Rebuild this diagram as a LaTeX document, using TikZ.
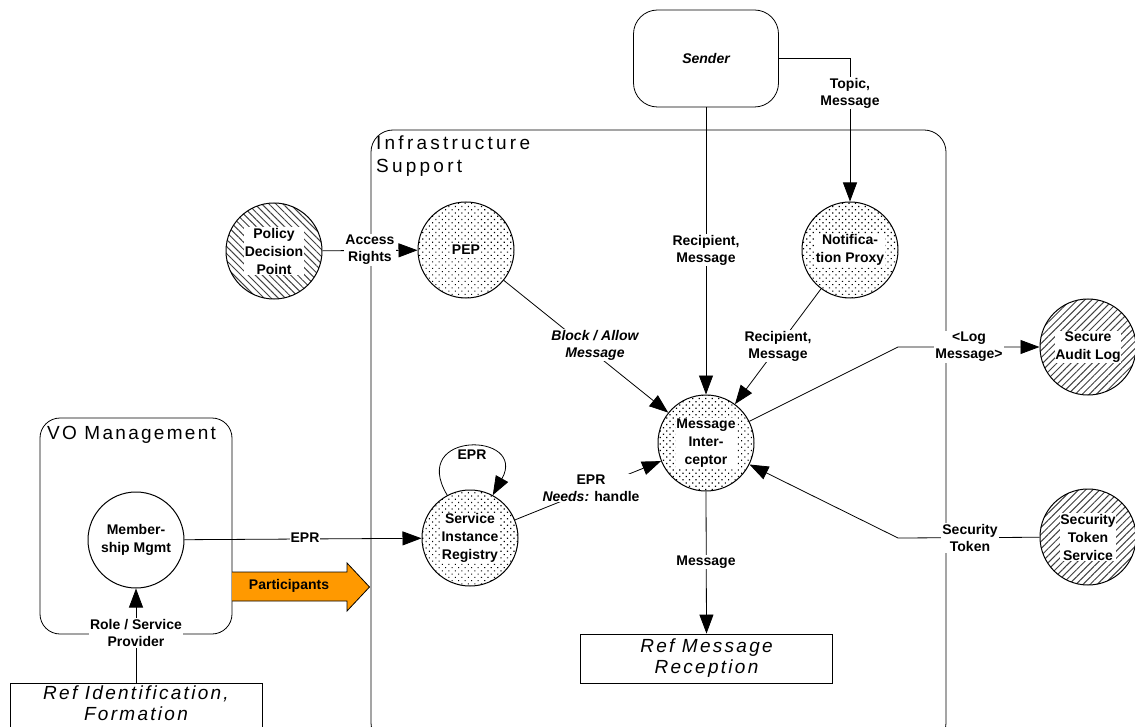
\documentclass[tikz,border=0pt]{standalone}
\usepackage{fontspec}
\setmainfont{Liberation Sans}
\newfontfamily\spacedfont[LetterSpace=12]{Liberation Sans}
\newfontfamily\widefont[LetterSpace=17]{Liberation Sans}
\usetikzlibrary{arrows.meta,patterns.meta}

\definecolor{partorange}{HTML}{FF9900}
\definecolor{hatchgray}{gray}{0.25}

\tikzset{
  lab/.style={font=\bfseries\fontsize{14}{17}\selectfont, align=center, fill=white, inner sep=1pt},
  intext/.style={font=\bfseries\fontsize{14}{18}\selectfont, align=center, fill=white, inner sep=0.8pt},
  conn/.style={line width=0.8pt, -{Triangle[length=19pt,width=14pt]}},
  bubble/.style={circle, draw, line width=1pt, minimum size=96pt, inner sep=0pt},
  dotted bubble/.style={bubble, pattern={Dots[distance=4.6pt,radius=0.85pt,angle=45]}},
  hatch ne/.style={bubble, pattern={Lines[angle=45,distance=5pt,line width=1pt]}, pattern color=hatchgray},
  hatch nw/.style={bubble, pattern={Lines[angle=-45,distance=5pt,line width=1pt]}, pattern color=hatchgray},
  group/.style={draw, line width=0.8pt, rounded corners=22pt},
  refbox/.style={draw, line width=0.8pt, font=\spacedfont\itshape\fontsize{19}{21}\selectfont, align=center},
  grouptitle/.style={font=\spacedfont\fontsize{19}{23}\selectfont, align=left, inner sep=0pt, anchor=north west}
}

\begin{document}
\begin{tikzpicture}[x=1pt,y=-1pt]
\useasboundingbox (0,0) rectangle (1135,727);

% group frames
\draw[group] (371,130) rectangle (946,745);
\draw[group, rounded corners=20pt] (40,418) rectangle (232,634);
\node[grouptitle, font=\widefont\fontsize{19}{23}\selectfont] (infratitle) at (376,136) {Infrastructure\\Support};
\node[grouptitle] (votitle) at (47,426) {VO Management};

% sender and reference boxes
\node[draw, line width=0.8pt, rounded corners=24pt, minimum width=145pt, minimum height=97pt,
      font=\bfseries\itshape\fontsize{14}{17}\selectfont] (sender) at (706,58.5) {Sender};
\node[refbox, minimum width=252pt, minimum height=49pt] (msgrec) at (706.5,658.5) {Ref Message\\Reception};
\draw[line width=0.8pt] (10,683) rectangle (262,760);
\node[font=\spacedfont\itshape\fontsize{19}{21}\selectfont, align=center, inner sep=0pt, anchor=north] (refid) at (136,686) {Ref Identification,\\Formation};
\coordinate (refidtop) at (136,683);

% bubbles
\node[hatch nw] (pdp) at (274,251) {};
\node[dotted bubble] (pep) at (466,250) {};
\node[dotted bubble] (np) at (850,250) {};
\node[dotted bubble] (mi) at (706,443) {};
\node[dotted bubble] (sir) at (470,538) {};
\node[hatch ne] (sal) at (1088,347) {};
\node[hatch ne] (sts) at (1088,537) {};
\node[bubble, fill=white] (mm) at (136,540) {};

\node[intext] (pdp-t) at (pdp) {Policy\\Decision\\Point};
\node[intext] (pep-t) at (pep) {PEP};
\node[intext] (np-t) at (np) {Notifica-\\tion Proxy};
\node[intext] (mi-t) at (mi) {Message\\Inter-\\ceptor};
\node[intext] (sir-t) at (sir) {Service\\Instance\\Registry};
\node[intext] (sal-t) at (sal) {Secure\\Audit Log};
\node[intext] (sts-t) at (sts) {Security\\Token\\Service};
\node[intext, fill=none] (mm-t) at (mm) {Member-\\ship Mgmt};

% bend points
\coordinate (topicbend) at (850,58.5);
\coordinate (logbend) at (898,347);
\coordinate (tokenbend) at (898,538);

% connectors
\draw[conn] (sender.east) -- (topicbend) -- (np);
\draw[conn] (sender.south) -- (mi.north);
\draw[conn] (pdp) -- (pep);
\draw[conn] (pep) -- (mi);
\draw[conn] (np) -- (mi);
\draw[conn] (mi) -- (logbend) -- (sal);
\draw[conn] (sts) -- (tokenbend) -- (mi);
\draw[conn] (sir) -- (mi);
\draw[conn] (sir.118) .. controls (408,430) and (528,432) .. (sir.62);
\draw[conn] (mm) -- (sir);
\draw[conn] (mi.south) -- (msgrec.north);
\draw[conn] (refidtop) -- (mm.south);

% participants flow
\draw[line width=0.8pt, fill=partorange] (232,572) -- (347,572) -- (347,563) -- (369.5,587)
  -- (347,611) -- (347,601) -- (232,601);
\node[font=\bfseries\fontsize{14}{17}\selectfont, inner sep=0pt] (partlab) at (289,586) {Participants};

% connector labels
\node[lab] (topiclab) at (850,93) {Topic,\\Message};
\node[lab] (reclab1) at (706,250) {Recipient,\\Message};
\node[lab] (acclab) at (370,250) {Access\\Rights};
\node[lab, font=\bfseries\itshape\fontsize{14}{17}\selectfont] (balab) at (595,345) {Block / Allow\\Message};
\node[lab] (reclab2) at (778,346) {Recipient,\\Message};
\node[lab] (loglab) at (969,347) {<Log\\Message>};
\node[lab] (toklab) at (970,538) {Security\\Token};
\node[lab] (epr1lab) at (591,488) {EPR\\\textit{Needs:} handle};
\node[lab] (looplab) at (472,455) {EPR};
\node[lab] (epr2lab) at (305,538) {EPR};
\node[lab] (msglab) at (706,562) {Message};
\node[lab] (rolelab) at (136,633) {Role / Service\\Provider};
\end{tikzpicture}
\end{document}
